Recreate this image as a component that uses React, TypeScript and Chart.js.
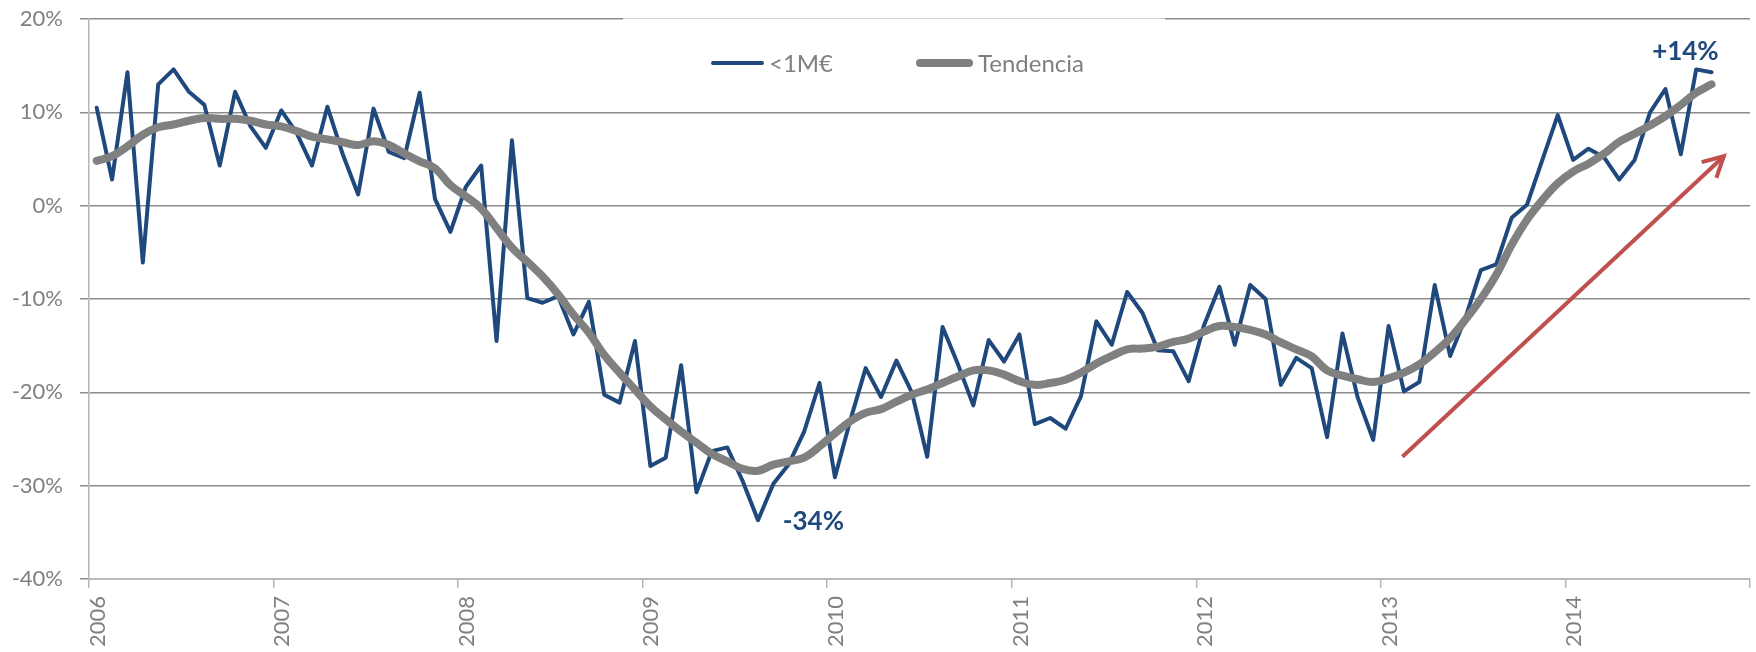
import React, { useEffect, useRef } from 'react';
import { Chart, registerables } from 'chart.js';

Chart.register(...registerables);

// ---------- data ----------
const YEARS = ['2006', '2007', '2008', '2009', '2010', '2011', '2012', '2013', '2014'];
const MONTHS = ['01', '02', '03', '04', '05', '06', '07', '08', '09', '10', '11', '12'];
const CATEGORIES = YEARS.flatMap((y) => MONTHS.map((m) => `${y}-${m}`));

const SERIES_LABEL = '<1M€';
const TREND_LABEL = 'Tendencia';

// monthly year-on-year change (%), Jan 2006 .. Oct 2014
const SERIES_1M = [
  10.5, 2.8, 14.3, -6.1, 13.0, 14.6, 12.2, 10.8, 4.3, 12.2, 8.5, 6.2,
  10.2, 7.8, 4.3, 10.6, 5.5, 1.2, 10.4, 5.75, 5.1, 12.1, 0.7, -2.8,
  2.0, 4.3, -14.5, 7.0, -9.9, -10.4, -9.7, -13.8, -10.3, -20.25, -21.1, -14.5,
  -27.9, -27.0, -17.1, -30.7, -26.3, -25.9, -29.5, -33.7, -29.8, -27.7, -24.2, -19.0,
  -29.1, -23.0, -17.4, -20.5, -16.6, -20.0, -26.9, -13.0, -17.0, -21.4, -14.4, -16.7,
  -13.8, -23.4, -22.75, -23.9, -20.4, -12.4, -14.9, -9.25, -11.5, -15.5, -15.6, -18.8,
  -12.8, -8.7, -14.9, -8.5, -10.0, -19.2, -16.3, -17.4, -24.8, -13.7, -20.6, -25.1,
  -12.9, -19.9, -18.9, -8.5, -16.1, -12.0, -6.9, -6.3, -1.3, 0.1, 4.9, 9.7,
  4.9, 6.1, 5.2, 2.8, 4.9, 10.0, 12.5, 5.5, 14.6, 14.3,
];

const TENDENCIA = [
  4.8, 5.3, 6.35, 7.6, 8.4, 8.7, 9.1, 9.4, 9.3, 9.3, 9.1, 8.7,
  8.5, 8.0, 7.4, 7.1, 6.8, 6.5, 6.9, 6.5, 5.6, 4.75, 4.0, 2.2,
  1.0, -0.3, -2.4, -4.5, -6.0, -7.6, -9.5, -11.7, -13.6, -16.0, -17.9, -19.7,
  -21.5, -22.9, -24.2, -25.4, -26.6, -27.4, -28.2, -28.4, -27.75, -27.4, -27.0, -25.8,
  -24.4, -23.1, -22.2, -21.8, -21.0, -20.25, -19.7, -19.0, -18.3, -17.65, -17.65, -18.1,
  -18.8, -19.2, -19.0, -18.65, -17.9, -16.9, -16.1, -15.4, -15.3, -15.1, -14.6, -14.25,
  -13.5, -12.9, -13.0, -13.3, -13.8, -14.65, -15.4, -16.15, -17.65, -18.2, -18.6, -18.9,
  -18.5, -17.9, -17.0, -15.7, -14.2, -12.2, -10.0, -7.4, -4.2, -1.5, 0.6, 2.4,
  3.65, 4.5, 5.55, 6.85, 7.7, 8.6, 9.6, 10.8, 12.1, 13.0,
];

const Y_MIN = -40;
const Y_MAX = 20;
const Y_STEP = 10;

// text call-outs, placed in data coordinates (category index, %)
const CALLOUT_TEXTS = ['-34%', '+14%'];
const CALLOUT_INDEX = [46.6, 103.3];
const CALLOUT_VALUE = [-33.9, 16.5];

// trend arrow, in data coordinates
const ARROW_INDEX = [84.9, 105.8];
const ARROW_VALUE = [-26.9, 5.3];

// ---------- styles ----------
const FONT = 'Lato, "Open Sans", "DejaVu Sans", sans-serif';
const BLUE = '#1F497D';
const GREY_LINE = '#808080';
const TEXT_GREY = '#808080';
const GRID = '#8c8c8c';
const AXIS = '#b5b5b5';
const RED = '#C0504D';

const overlayPlugin = {
  id: 'overlay',
  beforeDatasetsDraw(chart: any) {
    const { ctx, chartArea } = chart;
    // legend box covering part of the top grid line
    ctx.save();
    ctx.fillStyle = '#ffffff';
    ctx.fillRect(chartArea.left + 534, chartArea.top - 3, 542, 6);
    ctx.strokeStyle = '#d0d0d0';
    ctx.lineWidth = 1;
    ctx.beginPath();
    ctx.moveTo(chartArea.left + 534, chartArea.top - 0.5);
    ctx.lineTo(chartArea.left + 1076, chartArea.top - 0.5);
    ctx.stroke();
    ctx.restore();
  },
  afterDraw(chart: any) {
    const { ctx, chartArea } = chart;
    const xs = chart.scales.x;
    const ys = chart.scales.y;
    ctx.save();

    // legend (inside plot)
    const legendY = chartArea.top + 44;
    const itemX = [chartArea.left + 622, chartArea.left + 827];
    const sampleW = [53, 57];
    ctx.font = `24px ${FONT}`;
    ctx.textBaseline = 'middle';
    ctx.textAlign = 'left';
    chart.data.datasets.forEach((ds: any, i: number) => {
      ctx.strokeStyle = ds.borderColor;
      ctx.lineWidth = ds.borderWidth;
      ctx.lineCap = 'round';
      ctx.beginPath();
      ctx.moveTo(itemX[i] + ds.borderWidth / 2, legendY);
      ctx.lineTo(itemX[i] + sampleW[i] - ds.borderWidth / 2, legendY);
      ctx.stroke();
      ctx.fillStyle = TEXT_GREY;
      ctx.fillText(ds.label, itemX[i] + sampleW[i] + 5, legendY + 1);
    });

    // call-out texts
    ctx.font = `bold 26px ${FONT}`;
    ctx.fillStyle = BLUE;
    ctx.textAlign = 'center';
    ctx.textBaseline = 'middle';
    CALLOUT_TEXTS.forEach((t, i) => {
      ctx.fillText(t, xs.getPixelForValue(CALLOUT_INDEX[i]), ys.getPixelForValue(CALLOUT_VALUE[i]));
    });

    // red arrow
    const x0 = xs.getPixelForValue(ARROW_INDEX[0]);
    const y0 = ys.getPixelForValue(ARROW_VALUE[0]);
    const x1 = xs.getPixelForValue(ARROW_INDEX[1]);
    const y1 = ys.getPixelForValue(ARROW_VALUE[1]);
    ctx.strokeStyle = RED;
    ctx.lineWidth = 4;
    ctx.lineCap = 'butt';
    ctx.lineJoin = 'miter';
    ctx.beginPath();
    ctx.moveTo(x0, y0);
    ctx.lineTo(x1, y1);
    ctx.stroke();
    const ang = Math.atan2(y0 - y1, x0 - x1);
    const head = 23;
    const spread = (28 * Math.PI) / 180;
    ctx.beginPath();
    ctx.moveTo(x1 + head * Math.cos(ang + spread), y1 + head * Math.sin(ang + spread));
    ctx.lineTo(x1, y1);
    ctx.lineTo(x1 + head * Math.cos(ang - spread), y1 + head * Math.sin(ang - spread));
    ctx.stroke();

    ctx.restore();
  },
};

export default function App() {
  const canvasRef = useRef<HTMLCanvasElement | null>(null);

  useEffect(() => {
    if (!canvasRef.current) return;
    const chart = new Chart(canvasRef.current, {
      type: 'line',
      data: {
        labels: CATEGORIES,
        datasets: [
          {
            label: SERIES_LABEL,
            data: SERIES_1M,
            borderColor: BLUE,
            backgroundColor: BLUE,
            borderWidth: 4,
            pointRadius: 0,
            tension: 0,
            borderJoinStyle: 'round',
            borderCapStyle: 'round',
            order: 1,
          },
          {
            label: TREND_LABEL,
            data: TENDENCIA,
            borderColor: GREY_LINE,
            backgroundColor: GREY_LINE,
            borderWidth: 8,
            pointRadius: 0,
            tension: 0.4,
            borderJoinStyle: 'round',
            borderCapStyle: 'round',
            order: 0,
          },
        ],
      },
      options: {
        responsive: false,
        animation: false,
        devicePixelRatio: 1,
        layout: { padding: { left: 0, right: 6, top: 19, bottom: 0 } },
        plugins: {
          legend: { display: false },
          tooltip: { enabled: false },
        },
        scales: {
          x: {
            type: 'category',
            offset: true,
            grid: {
              offset: true,
              drawOnChartArea: false,
              drawTicks: true,
              tickLength: 9,
              lineWidth: 1.5,
              color: (c: any) =>
                c.type !== 'tick' || c.index % 12 === 0 ? AXIS : 'rgba(0,0,0,0)',
            },
            border: { display: true, color: AXIS, width: 1.5 },
            ticks: {
              autoSkip: false,
              minRotation: 90,
              maxRotation: 90,
              padding: 8,
              labelOffset: 1,
              color: TEXT_GREY,
              font: { family: FONT, size: 22 },
              callback: (_v: any, i: number) => (i % 12 === 0 ? YEARS[i / 12] : ''),
            },
            afterFit: (s: any) => {
              s.height = 73;
              s.paddingLeft = 0;
              s.paddingRight = 0;
            },
          },
          y: {
            min: Y_MIN,
            max: Y_MAX,
            grid: {
              color: GRID,
              lineWidth: 1.5,
              drawTicks: true,
              tickLength: 9,
            },
            border: { display: true, color: AXIS, width: 1.5 },
            ticks: {
              stepSize: Y_STEP,
              padding: 17,
              color: TEXT_GREY,
              font: { family: FONT, size: 22 },
              callback: (v: any) => `${v}%`,
            },
            afterFit: (s: any) => {
              s.width = 89;
              s.paddingTop = 0;
              s.paddingBottom = 0;
            },
          },
        },
      },
      plugins: [overlayPlugin],
    } as any);
    return () => chart.destroy();
  }, []);

  return (
    <div style={{ position: 'fixed', left: 0, top: 0, width: 1756, height: 652, background: '#fff' }}>
      <canvas ref={canvasRef} width={1756} height={652} />
    </div>
  );
}
